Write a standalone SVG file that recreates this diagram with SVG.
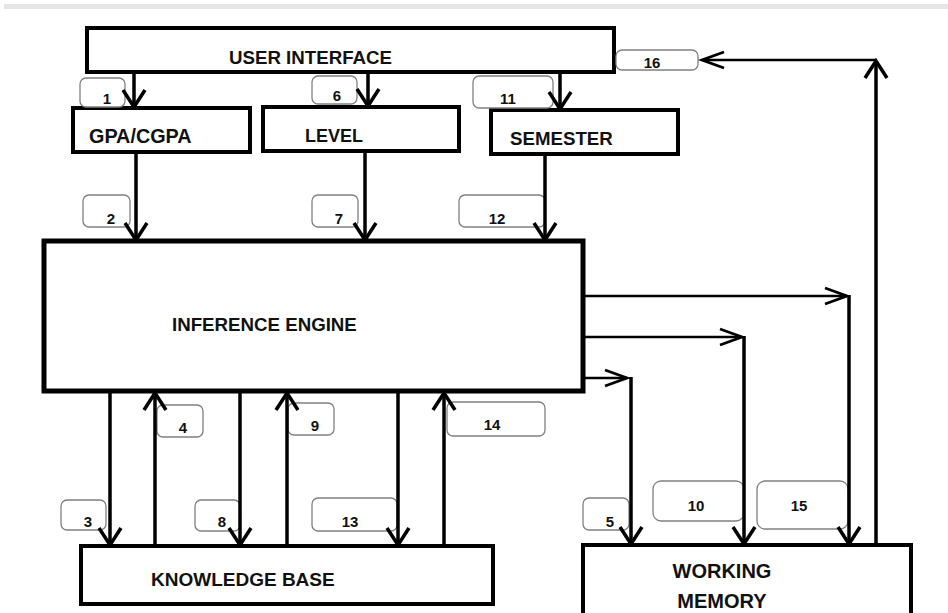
<svg xmlns="http://www.w3.org/2000/svg" width="948" height="613" viewBox="0 0 948 613">
<style>
.box{fill:#fff;stroke:#000;stroke-width:4}
.t{font-family:"Liberation Sans",Arial,sans-serif;font-weight:bold;font-size:18.7px;fill:#111}
.lb{fill:#fff;stroke:#808080;stroke-width:1.3}
.n{font-family:"Liberation Sans",Arial,sans-serif;font-weight:bold;font-size:15px;fill:#111;text-anchor:middle}
.c{stroke:#000;stroke-width:3.5;fill:none}
.ct{stroke:#000;stroke-width:2.6;fill:none}
</style>
<defs>
<marker id="av" markerUnits="userSpaceOnUse" markerWidth="30" markerHeight="30" viewBox="-20 -15 30 30" refX="0" refY="0" orient="auto" overflow="visible">
<path d="M-17,-11 L0,0 L-17,11" fill="none" stroke="#000" stroke-width="3.5"/>
</marker>
<marker id="ah" markerUnits="userSpaceOnUse" markerWidth="30" markerHeight="30" viewBox="-25 -15 30 30" refX="0" refY="0" orient="auto" overflow="visible">
<path d="M-22,-8 L0,0 L-22,8" fill="none" stroke="#000" stroke-width="2.8"/>
</marker>
</defs>
<rect x="4" y="4" width="944" height="5" fill="#e6e6e6"/>

<g id="user-interface"><rect class="box" x="87" y="28" width="527" height="44"/><text class="t" x="229" y="64">USER INTERFACE</text></g>
<g id="gpa"><rect class="box" x="73" y="108" width="177" height="44"/><text class="t" x="89" y="143" style="font-size:19.8px">GPA/CGPA</text></g>
<g id="level"><rect class="box" x="263" y="107" width="196" height="44"/><text class="t" x="305" y="142" style="font-size:18px">LEVEL</text></g>
<g id="semester"><rect class="box" x="491" y="110" width="187" height="44"/><text class="t" x="510" y="145">SEMESTER</text></g>
<g id="inference-engine"><rect class="box" x="44" y="241" width="539" height="150" style="stroke-width:5"/><text class="t" x="172" y="331">INFERENCE ENGINE</text></g>
<g id="knowledge-base"><rect class="box" x="81" y="546" width="412" height="58"/><text class="t" x="151" y="586" style="font-size:19px">KNOWLEDGE BASE</text></g>
<g id="working-memory"><rect class="box" x="583" y="545" width="328" height="80"/><text class="t" x="722" y="578" text-anchor="middle" style="font-size:20px">WORKING</text><text class="t" x="722" y="608" text-anchor="middle" style="font-size:20px">MEMORY</text></g>

<g id="labels">
<g id="l1"><rect class="lb" x="80" y="78" width="45" height="29" rx="6"/><text class="n" x="107" y="104">1</text></g>
<g id="l6"><rect class="lb" x="312" y="76" width="45" height="28" rx="6"/><text class="n" x="337" y="101">6</text></g>
<g id="l11"><rect class="lb" x="473" y="76" width="80" height="32" rx="6"/><text class="n" x="508" y="104">11</text></g>
<g id="l16"><rect class="lb" x="616" y="50" width="82" height="20" rx="6"/><text class="n" x="652" y="68">16</text></g>
<g id="l2"><rect class="lb" x="83" y="195" width="47" height="32" rx="6"/><text class="n" x="111" y="224">2</text></g>
<g id="l7"><rect class="lb" x="312" y="195" width="46" height="32" rx="6"/><text class="n" x="339" y="224">7</text></g>
<g id="l12"><rect class="lb" x="459" y="195" width="86" height="32" rx="6"/><text class="n" x="497" y="224">12</text></g>
<g id="l4"><rect class="lb" x="157" y="405" width="46" height="32" rx="6"/><text class="n" x="183" y="433">4</text></g>
<g id="l9"><rect class="lb" x="288" y="403" width="46" height="32" rx="6"/><text class="n" x="315" y="431">9</text></g>
<g id="l14"><rect class="lb" x="447" y="402" width="98" height="34" rx="6"/><text class="n" x="492" y="430">14</text></g>
<g id="l3"><rect class="lb" x="61" y="500" width="45" height="30" rx="6"/><text class="n" x="88" y="527">3</text></g>
<g id="l8"><rect class="lb" x="195" y="500" width="45" height="31" rx="6"/><text class="n" x="222" y="527">8</text></g>
<g id="l13"><rect class="lb" x="312" y="498" width="85" height="33" rx="6"/><text class="n" x="350" y="527">13</text></g>
<g id="l5"><rect class="lb" x="583" y="498" width="46" height="32" rx="6"/><text class="n" x="610" y="527">5</text></g>
<g id="l10"><rect class="lb" x="653" y="481" width="91" height="40" rx="8"/><text class="n" x="696" y="511">10</text></g>
<g id="l15"><rect class="lb" x="757" y="481" width="91" height="48" rx="8"/><text class="n" x="799" y="511">15</text></g>
</g>

<g id="connectors">
<line class="c" x1="134" y1="72" x2="134" y2="107" marker-end="url(#av)"/>
<line class="c" x1="368" y1="72" x2="368" y2="106" marker-end="url(#av)"/>
<line class="c" x1="560" y1="72" x2="560" y2="109" marker-end="url(#av)"/>
<line class="c" x1="136" y1="152" x2="136" y2="240" marker-end="url(#av)"/>
<line class="c" x1="365" y1="151" x2="365" y2="240" marker-end="url(#av)"/>
<line class="c" x1="545" y1="154" x2="545" y2="240" marker-end="url(#av)"/>
<line class="c" x1="110" y1="393" x2="110" y2="545" marker-end="url(#av)"/>
<line class="c" x1="155" y1="546" x2="155" y2="393" marker-end="url(#av)"/>
<line class="c" x1="240" y1="393" x2="240" y2="545" marker-end="url(#av)"/>
<line class="c" x1="287" y1="546" x2="287" y2="393" marker-end="url(#av)"/>
<line class="c" x1="398" y1="393" x2="398" y2="545" marker-end="url(#av)"/>
<line class="c" x1="444" y1="546" x2="444" y2="393" marker-end="url(#av)"/>
<line class="ct" x1="585" y1="296" x2="847" y2="296" marker-end="url(#ah)"/>
<line class="c" x1="849" y1="295" x2="849" y2="544" marker-end="url(#av)"/>
<line class="ct" x1="585" y1="337" x2="742" y2="337" marker-end="url(#ah)"/>
<line class="c" x1="744" y1="336" x2="744" y2="544" marker-end="url(#av)"/>
<line class="ct" x1="585" y1="378" x2="627" y2="378" marker-end="url(#ah)"/>
<line class="c" x1="631" y1="377" x2="631" y2="544" marker-end="url(#av)"/>
<line class="c" x1="876" y1="545" x2="876" y2="61" marker-end="url(#av)"/>
<line class="ct" x1="876" y1="60" x2="702" y2="60" marker-end="url(#ah)"/>
</g>
</svg>
